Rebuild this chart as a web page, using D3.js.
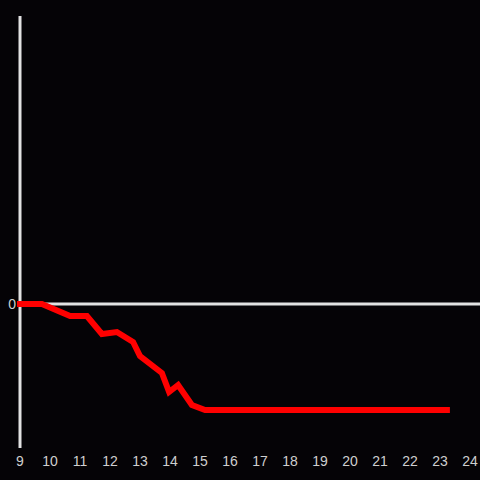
<!DOCTYPE html>
<html>
<head>
<meta charset="UTF-8">
<script src="https://cdn.jsdelivr.net/npm/d3@7"></script>
<style>
  html, body { margin: 0; padding: 0; background: #050306; }
  svg { display: block; }
</style>
</head>
<body>
<script>
    // hours and value (0 = baseline)
    var hours = [8.9, 9.73, 10.67, 11.23, 11.73, 12.23, 12.77, 13.0, 13.73, 13.97, 14.27, 14.73, 15.17, 23.33];
    var values = [0, 0, -12, -12, -30, -28, -38, -52, -69, -88, -81, -101, -106, -106];
    var xTicks = [9, 10, 11, 12, 13, 14, 15, 16, 17, 18, 19, 20, 21, 22, 23, 24];
    var yTicks = [0];

    var width = 480, height = 480;
    var svg = d3.select("body").append("svg").attr("width", width).attr("height", height);
    svg.append("rect").attr("width", width).attr("height", height).attr("fill", "#050306");

    var x = d3.scaleLinear().domain([9, 24]).range([20, 470]);
    var y = d3.scaleLinear().domain([-144, 288]).range([448, 16]);

    // y axis line
    svg.append("line").attr("x1", x(9)).attr("x2", x(9)).attr("y1", y(288)).attr("y2", y(-144))
        .attr("stroke", "#e2e2e2").attr("stroke-width", 3);
    // zero line
    svg.selectAll(".zero").data(yTicks).enter().append("line")
        .attr("x1", x(9)).attr("x2", width)
        .attr("y1", function(d) { return y(d); }).attr("y2", function(d) { return y(d); })
        .attr("stroke", "#e2e2e2").attr("stroke-width", 3);
    svg.selectAll(".ylab").data(yTicks).enter().append("text")
        .attr("x", 16).attr("y", function(d) { return y(d); }).attr("dy", "0.35em")
        .attr("text-anchor", "end").attr("fill", "#cfcfcf")
        .attr("font-family", "Liberation Sans, Arial, sans-serif").attr("font-size", "14px")
        .text(function(d) { return d; });

    svg.selectAll(".xlab").data(xTicks).enter().append("text")
        .attr("x", function(d) { return x(d); }).attr("y", 461).attr("dy", "0.35em")
        .attr("text-anchor", "middle").attr("fill", "#cfcfcf")
        .attr("font-family", "Liberation Sans, Arial, sans-serif").attr("font-size", "14px")
        .text(function(d) { return d; });

    var line = d3.line()
        .x(function(d, i) { return x(hours[i]); })
        .y(function(d) { return y(d); });
    svg.append("path").datum(values).attr("d", line)
        .attr("fill", "none").attr("stroke", "#ff0000").attr("stroke-width", 6)
        .attr("stroke-linejoin", "miter");
</script>
</body>
</html>
